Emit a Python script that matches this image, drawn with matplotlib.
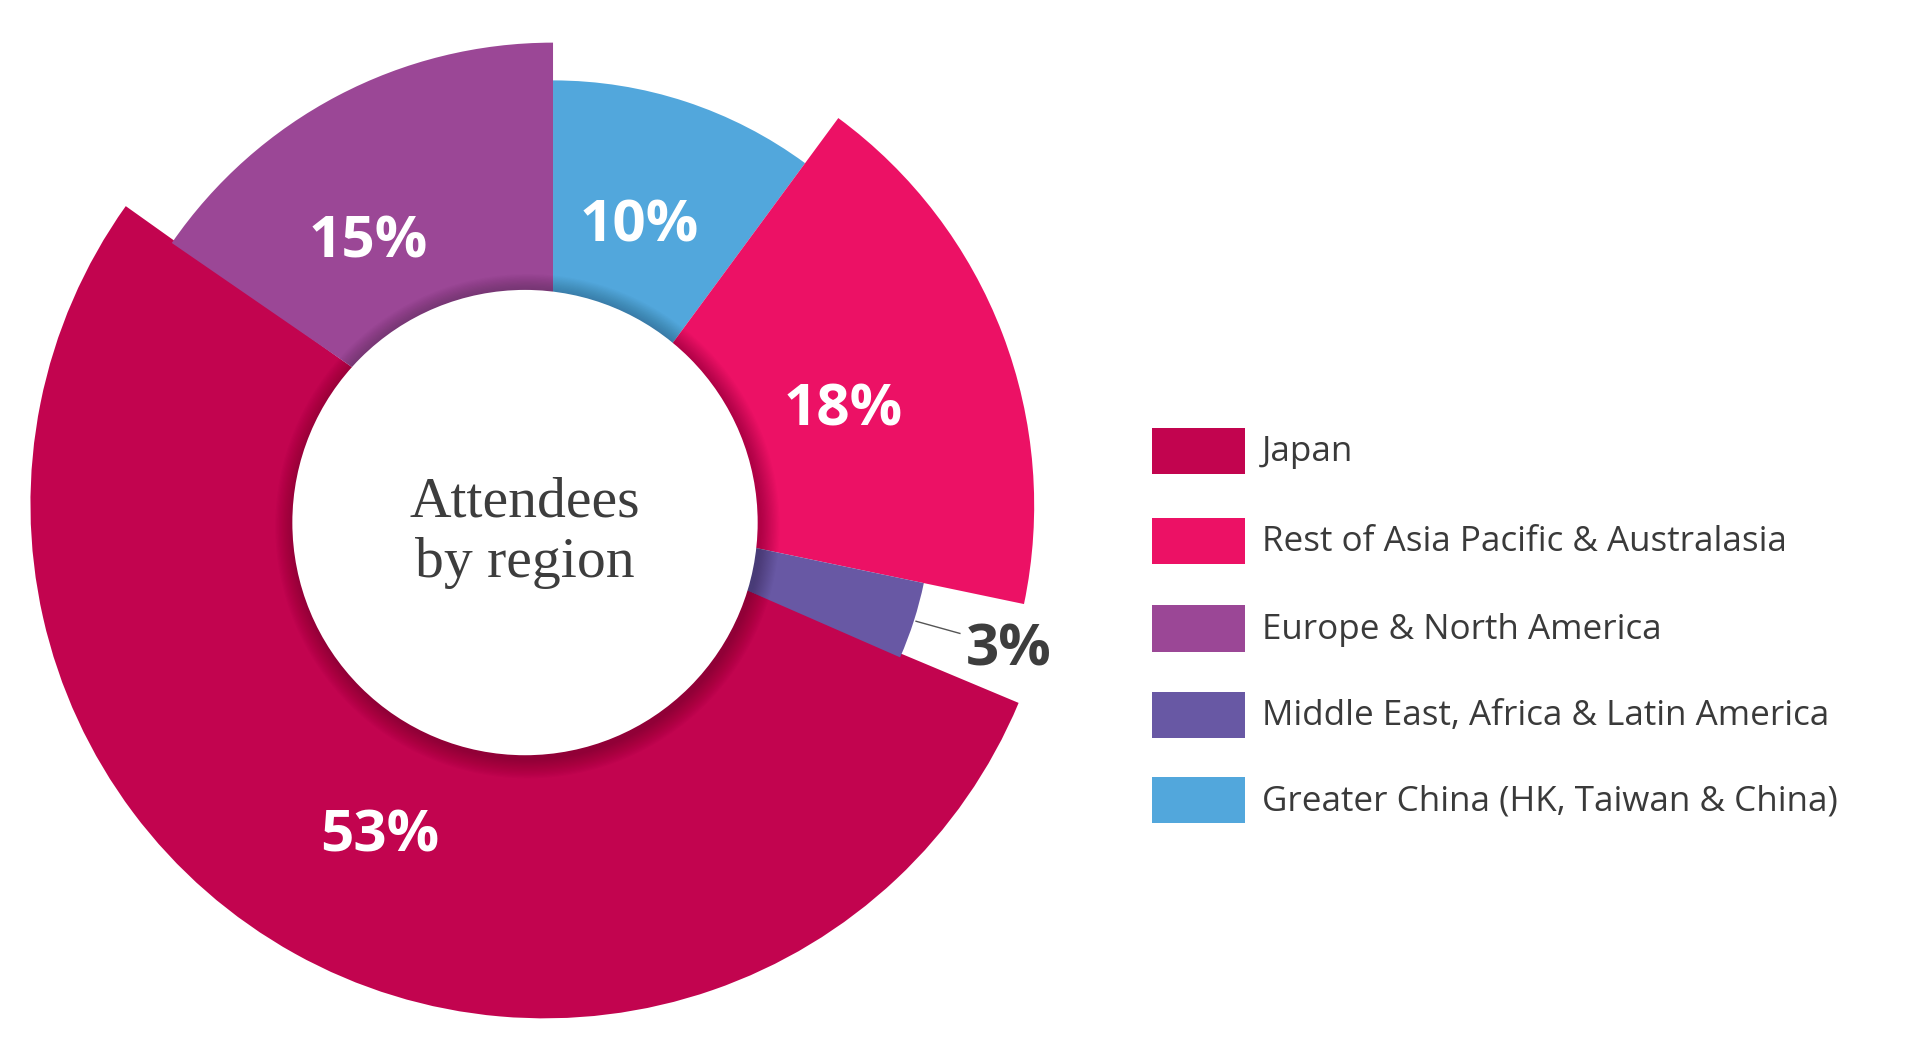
import numpy as np
import matplotlib.pyplot as plt
from matplotlib.patches import Wedge, Circle, Rectangle

# data
regions = ['Japan', 'Rest of Asia Pacific & Australasia', 'Europe & North America',
           'Middle East, Africa & Latin America', 'Greater China (HK, Taiwan & China)']
shares = [53, 18, 15, 3, 10]
colors = ['#C2044F', '#EC1165', '#9B4796', '#6858A4', '#52A7DC']
# order of wedges clockwise from 12 o'clock
pie_order = [4, 1, 3, 0, 2]

# drawing units = reference pixels / ~1.218
W = 1568.0
H = W * 1042 / 1910
cx, cy = 454, H - 415
outer_r = {0: 422, 1: 395, 2: 380, 3: 311, 4: 349}
# the Japan slice sits a little to the left in the original
shift = {0: (-7, 1)}
hole_c = (431, H - 429)
hole_r = 191

fig = plt.figure(figsize=(19.1, 10.42), dpi=100)
ax = fig.add_axes([0, 0, 1, 1])
ax.set_xlim(0, W)
ax.set_ylim(0, H)
ax.set_aspect('equal')
ax.axis('off')

# angles of each slice, clockwise from the top
angles = {}
start = 90.0
for i in pie_order:
    span = shares[i] / sum(shares) * 360
    angles[i] = (start - span, start)
    start -= span

# Japan first, its neighbours overlap it a little so no gap shows
pad = {2: (0.9, 0), 3: (0, 0.9)}
for i in [0] + [j for j in pie_order if j != 0]:
    t1, t2 = angles[i]
    p1, p2 = pad.get(i, (0, 0))
    dx, dy = shift.get(i, (0, 0))
    ax.add_patch(Wedge((cx + dx, cy + dy), outer_r[i], t1 - p2, t2 + p1,
                       facecolor=colors[i], edgecolor='none'))

# soft shadow round the hole
for k in range(16, 0, -1):
    ax.add_patch(Circle((hole_c[0] + 2, hole_c[1] - 3), hole_r + k,
                        facecolor='black', alpha=0.016, edgecolor='none'))
ax.add_patch(Circle(hole_c, hole_r, facecolor='white', edgecolor='none'))

ax.text(hole_c[0], H - 424, 'Attendees', family='Liberation Serif', fontsize=41.5,
        color='#3d3d3d', ha='center', va='baseline')
ax.text(hole_c[0], H - 474, 'by region', family='Liberation Serif', fontsize=41.5,
        color='#3d3d3d', ha='center', va='baseline')

# percentage labels
label_pos = {0: (312, 687), 1: (692, 337), 2: (302, 199), 3: (828, 534), 4: (525, 186)}
for i, (lx, ly) in label_pos.items():
    c = '#3d3d3d' if i == 3 else 'white'
    ax.text(lx, H - ly, f'{shares[i]}%', family='Open Sans', fontweight='bold',
            fontsize=42, color=c, ha='center', va='center')
ax.plot([752, 788], [H - 510, H - 520], color='#555555', lw=1)

# legend
row_y = [370, 444, 516, 587, 657]
for i, ry in enumerate(row_y):
    ax.add_patch(Rectangle((946, H - ry - 19), 76, 38, facecolor=colors[i], edgecolor='none'))
    ax.text(1036, H - ry - 1, regions[i], family='Open Sans', fontsize=25.2, color='#3a3a3a',
            ha='left', va='center')

fig.savefig('out.png', dpi=100)
